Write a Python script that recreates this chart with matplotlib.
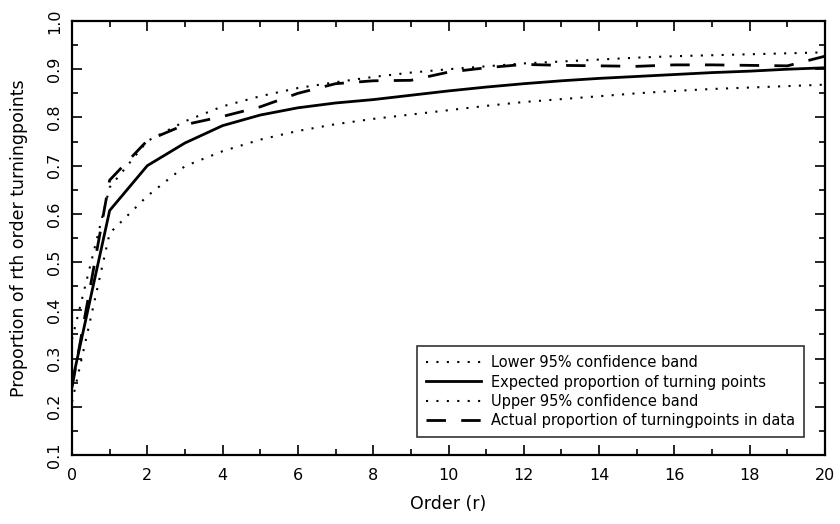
import matplotlib
matplotlib.use("Agg")
import matplotlib.pyplot as plt
from matplotlib.ticker import MultipleLocator

order = list(range(0, 21))
lower = [0.21, 0.56, 0.637, 0.699, 0.730, 0.754, 0.772, 0.786, 0.797, 0.806, 0.815,
         0.824, 0.832, 0.838, 0.844, 0.850, 0.855, 0.859, 0.862, 0.865, 0.868]
expected = [0.25, 0.607, 0.700, 0.747, 0.783, 0.805, 0.820, 0.830, 0.837, 0.846, 0.855,
            0.863, 0.870, 0.876, 0.881, 0.885, 0.889, 0.893, 0.896, 0.900, 0.903]
upper = [0.34, 0.655, 0.751, 0.792, 0.823, 0.844, 0.861, 0.873, 0.884, 0.893, 0.900,
         0.906, 0.912, 0.916, 0.920, 0.924, 0.927, 0.929, 0.931, 0.933, 0.935]
actual = [0.24, 0.670, 0.752, 0.785, 0.802, 0.822, 0.850, 0.870, 0.876, 0.877, 0.894,
          0.903, 0.910, 0.908, 0.907, 0.906, 0.909, 0.909, 0.908, 0.907, 0.927]

labels = ["Lower 95% confidence band",
          "Expected proportion of turning points",
          "Upper 95% confidence band",
          "Actual proportion of turningpoints in data"]

plt.rcParams['font.family'] = ['DejaVu Sans']
fig = plt.figure(figsize=(8.4, 5.24), dpi=100)
ax = fig.add_axes([72/840, 1-455/524, (825-72)/840, (455-21)/524])

ax.plot(order, lower, color='black', lw=1.5, linestyle=(0, (1, 4)), label=labels[0])
ax.plot(order, expected, color='black', lw=2.0, linestyle='-', label=labels[1])
ax.plot(order, upper, color='black', lw=1.5, linestyle=(0, (1, 4)), label=labels[2])
ax.plot(order, actual, color='black', lw=2.0, linestyle=(0, (7, 5.5)), label=labels[3])

ax.set_xlim(0, 20)
ax.set_ylim(0.1, 1.0)
ax.xaxis.set_major_locator(MultipleLocator(2))
ax.xaxis.set_minor_locator(MultipleLocator(1))
ax.yaxis.set_minor_locator(MultipleLocator(0.05))
ax.tick_params(which='both', direction='in', top=True, right=True, width=1.2)
ax.tick_params(which='major', length=7, labelsize=11.5)
ax.tick_params(axis='x', which='major', pad=9)
ax.tick_params(axis='y', which='major', pad=7)
ax.tick_params(which='minor', length=4)
ax.set_yticks([0.1, 0.2, 0.3, 0.4, 0.5, 0.6, 0.7, 0.8, 0.9, 1.0])
ax.set_yticklabels(["0.1", "0.2", "0.3", "0.4", "0.5", "0.6", "0.7", "0.8", "0.9", "1.0"],
                   rotation=90, va='center')
for s in ax.spines.values():
    s.set_linewidth(1.6)

ax.set_xlabel("Order (r)", fontsize=12.5, labelpad=9)
ax.set_ylabel("Proportion of rth order turningpoints", fontsize=12.5, labelpad=14)

leg = ax.legend(loc='lower right', bbox_to_anchor=(804/840, 1-437/524),
                bbox_transform=fig.transFigure, fontsize=10.5, frameon=True,
                fancybox=False, handlelength=3.8, handletextpad=0.7,
                labelspacing=0.3, borderpad=0.6, borderaxespad=0)
leg.get_frame().set_edgecolor('black')
leg.get_frame().set_linewidth(1.2)

fig.savefig("out.png", dpi=100)
